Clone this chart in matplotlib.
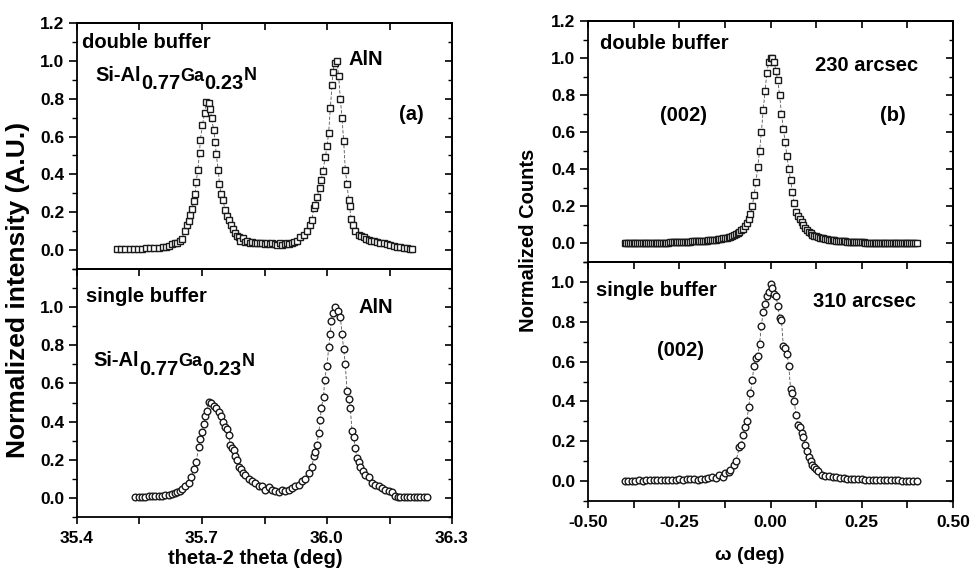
import numpy as np
import matplotlib
matplotlib.use("Agg")
import matplotlib.pyplot as plt
from matplotlib.ticker import MultipleLocator, FixedLocator

plt.rcParams['font.family'] = ['Liberation Sans', 'DejaVu Sans']
plt.rcParams['font.weight'] = 'bold'

# ---------------- data ----------------
# (a) theta-2theta, double buffer
a_dbl_x = [35.496, 35.506, 35.516, 35.526, 35.536, 35.546, 35.556, 35.566, 35.576, 35.586,
           35.596, 35.606, 35.614, 35.620, 35.628, 35.634, 35.640, 35.646, 35.652, 35.658,
           35.664, 35.668, 35.672, 35.676, 35.680, 35.684, 35.686, 35.690, 35.694, 35.696,
           35.701, 35.706, 35.710, 35.716, 35.720, 35.723, 35.728, 35.732, 35.734, 35.739,
           35.742, 35.746, 35.750, 35.756, 35.760, 35.765, 35.770, 35.774, 35.780, 35.784,
           35.788, 35.792, 35.798, 35.804, 35.808, 35.814, 35.820, 35.826, 35.832, 35.838,
           35.844, 35.850, 35.856, 35.862, 35.868, 35.874, 35.880, 35.886, 35.892, 35.898,
           35.904, 35.910, 35.916, 35.922, 35.928, 35.936, 35.944, 35.952, 35.960, 35.964,
           35.968, 35.972, 35.976, 35.982, 35.986, 35.990, 35.996, 36.000, 36.004, 36.008,
           36.012, 36.014, 36.018, 36.024, 36.028, 36.032, 36.036, 36.040, 36.044, 36.048,
           36.052, 36.054, 36.058, 36.062, 36.068, 36.076, 36.082, 36.088, 36.094, 36.100,
           36.106, 36.112, 36.120, 36.128, 36.136, 36.144, 36.152, 36.160, 36.168, 36.176,
           36.184, 36.192, 36.198, 36.204]
a_dbl_y = [0.005, 0.005, 0.006, 0.006, 0.007, 0.008, 0.008, 0.009, 0.010, 0.011,
           0.012, 0.014, 0.016, 0.020, 0.030, 0.035, 0.040, 0.050, 0.060, 0.100,
           0.130, 0.155, 0.185, 0.217, 0.260, 0.295, 0.360, 0.423, 0.514, 0.584,
           0.660, 0.724, 0.780, 0.775, 0.748, 0.696, 0.636, 0.570, 0.510, 0.423,
           0.348, 0.294, 0.264, 0.210, 0.178, 0.160, 0.133, 0.110, 0.090, 0.075,
           0.070, 0.050, 0.065, 0.045, 0.050, 0.040, 0.045, 0.040, 0.035, 0.040,
           0.035, 0.030, 0.035, 0.030, 0.035, 0.030, 0.028, 0.035, 0.025, 0.030,
           0.035, 0.030, 0.040, 0.045, 0.050, 0.070, 0.080, 0.100, 0.130, 0.160,
           0.220, 0.240, 0.280, 0.330, 0.370, 0.420, 0.490, 0.550, 0.620, 0.750,
           0.870, 0.940, 0.990, 1.000, 0.918, 0.797, 0.700, 0.575, 0.423, 0.350,
           0.266, 0.234, 0.164, 0.130, 0.100, 0.080, 0.075, 0.070, 0.060, 0.055,
           0.050, 0.050, 0.045, 0.040, 0.035, 0.030, 0.025, 0.020, 0.018, 0.015,
           0.012, 0.010, 0.008, 0.005]

# (a) theta-2theta, single buffer
a_sgl_x = [35.540, 35.548, 35.556, 35.564, 35.572, 35.580, 35.588, 35.596, 35.604, 35.612,
           35.620, 35.628, 35.634, 35.640, 35.646, 35.652, 35.660, 35.668, 35.674, 35.680,
           35.686, 35.692, 35.696, 35.700, 35.704, 35.708, 35.712, 35.716, 35.722, 35.728,
           35.734, 35.740, 35.746, 35.750, 35.756, 35.760, 35.764, 35.768, 35.772, 35.776,
           35.780, 35.784, 35.788, 35.794, 35.798, 35.804, 35.812, 35.820, 35.828, 35.836,
           35.844, 35.852, 35.860, 35.868, 35.876, 35.884, 35.892, 35.900, 35.908, 35.916,
           35.924, 35.932, 35.940, 35.948, 35.956, 35.964, 35.968, 35.972, 35.976, 35.980,
           35.984, 35.986, 35.992, 35.994, 36.000, 36.004, 36.008, 36.010, 36.014, 36.018,
           36.026, 36.032, 36.036, 36.040, 36.044, 36.048, 36.052, 36.056, 36.060, 36.064,
           36.068, 36.072, 36.076, 36.080, 36.086, 36.092, 36.100, 36.108, 36.116, 36.124,
           36.132, 36.140, 36.148, 36.156, 36.164, 36.170, 36.176, 36.184, 36.192, 36.200,
           36.208, 36.216, 36.224, 36.232, 36.240]
a_sgl_y = [0.005, 0.005, 0.006, 0.006, 0.008, 0.008, 0.010, 0.010, 0.012, 0.014,
           0.015, 0.020, 0.025, 0.030, 0.038, 0.045, 0.060, 0.080, 0.110, 0.150,
           0.190, 0.266, 0.310, 0.344, 0.388, 0.430, 0.456, 0.504, 0.500, 0.483,
           0.470, 0.449, 0.430, 0.400, 0.370, 0.360, 0.330, 0.275, 0.260, 0.250,
           0.220, 0.200, 0.160, 0.150, 0.130, 0.120, 0.100, 0.090, 0.080, 0.065,
           0.060, 0.040, 0.055, 0.040, 0.035, 0.030, 0.040, 0.035, 0.040, 0.050,
           0.060, 0.070, 0.090, 0.100, 0.130, 0.160, 0.220, 0.240, 0.280, 0.340,
           0.410, 0.470, 0.530, 0.620, 0.690, 0.790, 0.860, 0.930, 0.970, 1.000,
           0.980, 0.950, 0.860, 0.780, 0.700, 0.560, 0.520, 0.470, 0.350, 0.320,
           0.260, 0.210, 0.190, 0.160, 0.140, 0.120, 0.110, 0.080, 0.070, 0.065,
           0.050, 0.040, 0.035, 0.030, 0.010, 0.006, 0.005, 0.005, 0.005, 0.005,
           0.005, 0.005, 0.005, 0.005, 0.005]

# (b) omega rocking curve, double buffer
b_dbl_x = [-0.400, -0.395, -0.390, -0.385, -0.380, -0.375, -0.370, -0.365, -0.360, -0.355,
           -0.350, -0.345, -0.340, -0.335, -0.330, -0.325, -0.320, -0.315, -0.310, -0.305,
           -0.300, -0.295, -0.290, -0.285, -0.280, -0.275, -0.270, -0.265, -0.260, -0.255,
           -0.250, -0.245, -0.240, -0.235, -0.230, -0.225, -0.220, -0.215, -0.210, -0.205,
           -0.200, -0.195, -0.190, -0.185, -0.180, -0.175, -0.170, -0.165, -0.160, -0.155,
           -0.150, -0.145, -0.140, -0.135, -0.130, -0.125, -0.120, -0.115, -0.110, -0.105,
           -0.100, -0.095, -0.090, -0.085, -0.080, -0.075, -0.070, -0.065, -0.060, -0.055,
           -0.050, -0.045, -0.040, -0.035, -0.030, -0.025, -0.020, -0.015, -0.010, -0.005,
           0.000, 0.005, 0.010, 0.015, 0.020, 0.025, 0.030, 0.035, 0.040, 0.045,
           0.050, 0.055, 0.060, 0.065, 0.070, 0.075, 0.080, 0.085, 0.090, 0.095,
           0.100, 0.105, 0.110, 0.115, 0.120, 0.125, 0.130, 0.135, 0.140, 0.145,
           0.150, 0.155, 0.160, 0.165, 0.170, 0.175, 0.180, 0.185, 0.190, 0.195,
           0.200, 0.205, 0.210, 0.215, 0.220, 0.225, 0.230, 0.235, 0.240, 0.245,
           0.250, 0.255, 0.260, 0.265, 0.270, 0.275, 0.280, 0.285, 0.290, 0.295,
           0.300, 0.305, 0.310, 0.315, 0.320, 0.325, 0.330, 0.335, 0.340, 0.345,
           0.350, 0.355, 0.360, 0.365, 0.370, 0.375, 0.380, 0.385, 0.390, 0.395, 0.400]
b_dbl_y = [0.000, 0.000, 0.001, 0.001, 0.001, 0.001, 0.001, 0.002, 0.002, 0.002,
           0.002, 0.002, 0.002, 0.003, 0.003, 0.003, 0.003, 0.004, 0.004, 0.004,
           0.004, 0.005, 0.005, 0.005, 0.005, 0.006, 0.006, 0.007, 0.007, 0.008,
           0.008, 0.008, 0.008, 0.009, 0.009, 0.010, 0.010, 0.011, 0.011, 0.012,
           0.012, 0.013, 0.013, 0.014, 0.015, 0.015, 0.016, 0.017, 0.018, 0.019,
           0.020, 0.022, 0.023, 0.025, 0.027, 0.029, 0.031, 0.034, 0.037, 0.041,
           0.045, 0.050, 0.056, 0.063, 0.070, 0.080, 0.092, 0.110, 0.130, 0.160,
           0.200, 0.260, 0.330, 0.410, 0.500, 0.600, 0.720, 0.820, 0.920, 0.980,
           1.000, 1.000, 0.980, 0.930, 0.880, 0.800, 0.700, 0.620, 0.550, 0.470,
           0.400, 0.340, 0.280, 0.220, 0.170, 0.150, 0.130, 0.115, 0.100, 0.085,
           0.070, 0.062, 0.055, 0.048, 0.042, 0.038, 0.035, 0.032, 0.030, 0.027,
           0.025, 0.023, 0.021, 0.020, 0.018, 0.017, 0.015, 0.014, 0.013, 0.012,
           0.012, 0.011, 0.010, 0.010, 0.009, 0.009, 0.008, 0.008, 0.007, 0.007,
           0.006, 0.006, 0.005, 0.005, 0.005, 0.005, 0.004, 0.004, 0.004, 0.004,
           0.003, 0.003, 0.003, 0.003, 0.002, 0.002, 0.002, 0.002, 0.002, 0.001,
           0.001, 0.001, 0.001, 0.001, 0.001, 0.001, 0.001, 0.000, 0.000, 0.000, 0.000]

# (b) omega rocking curve, single buffer
b_sgl_x = [-0.40, -0.39, -0.38, -0.37, -0.36, -0.35, -0.34, -0.33, -0.32, -0.31,
           -0.30, -0.29, -0.28, -0.27, -0.26, -0.25, -0.24, -0.23, -0.22, -0.21,
           -0.20, -0.19, -0.18, -0.17, -0.16, -0.15, -0.14, -0.13, -0.125, -0.115,
           -0.11, -0.10, -0.095, -0.085, -0.08, -0.075, -0.07, -0.065, -0.06, -0.055,
           -0.05, -0.045, -0.04, -0.035, -0.03, -0.025, -0.02, -0.015, -0.01, -0.005,
           0.0, 0.005, 0.01, 0.015, 0.02, 0.025, 0.03, 0.035, 0.04, 0.045,
           0.05, 0.055, 0.06, 0.065, 0.07, 0.075, 0.08, 0.085, 0.09, 0.095,
           0.10, 0.105, 0.11, 0.115, 0.12, 0.125, 0.13, 0.14, 0.15, 0.16,
           0.17, 0.18, 0.19, 0.20, 0.21, 0.22, 0.23, 0.24, 0.25, 0.26,
           0.27, 0.28, 0.29, 0.30, 0.31, 0.32, 0.33, 0.34, 0.35, 0.36,
           0.37, 0.38, 0.39, 0.40]
b_sgl_y = [0.002, 0.001, 0.002, 0.001, 0.003, 0.002, 0.003, 0.004, 0.003, 0.005,
           0.004, 0.006, 0.005, 0.007, 0.006, 0.008, 0.007, 0.009, 0.008, 0.010,
           0.006, 0.012, 0.010, 0.014, 0.018, 0.015, 0.030, 0.022, 0.040, 0.045,
           0.055, 0.080, 0.100, 0.170, 0.180, 0.230, 0.270, 0.300, 0.370, 0.440,
           0.510, 0.580, 0.620, 0.630, 0.690, 0.780, 0.850, 0.890, 0.930, 0.950,
           0.990, 0.970, 0.940, 0.930, 0.880, 0.820, 0.810, 0.680, 0.670, 0.640,
           0.580, 0.460, 0.440, 0.400, 0.330, 0.280, 0.270, 0.240, 0.220, 0.180,
           0.150, 0.120, 0.100, 0.080, 0.070, 0.060, 0.050, 0.030, 0.025, 0.025,
           0.020, 0.020, 0.015, 0.015, 0.012, 0.010, 0.010, 0.008, 0.008, 0.006,
           0.006, 0.005, 0.005, 0.005, 0.004, 0.004, 0.003, 0.003, 0.003, 0.002,
           0.002, 0.002, 0.002, 0.002]

a_xticks = [35.4, 35.7, 36.0, 36.3]
a_xticklabels = ['35.4', '35.7', '36.0', '36.3']
b_xticks = [-0.50, -0.25, 0.00, 0.25, 0.50]
b_xticklabels = ['-0.50', '-0.25', '0.00', '0.25', '0.50']

# ---------------- figure ----------------
W, H = 973, 578
fig = plt.figure(figsize=(W / 100, H / 100), dpi=100)

def rect(l, t, r, b):
    return [l / W, 1 - b / H, (r - l) / W, (b - t) / H]

ax_a1 = fig.add_axes(rect(77, 23, 452, 269))
ax_a2 = fig.add_axes(rect(77, 269, 452, 517))
ax_b1 = fig.add_axes(rect(588, 21, 953, 262))
ax_b2 = fig.add_axes(rect(588, 262, 953, 501))

TICK_FS = 12.5
mk = dict(markerfacecolor='white', markeredgecolor='#1a1a1a', markeredgewidth=1.0,
          color='#555555', linewidth=0.6, linestyle=(0, (4, 2)))


def style(ax, xlim, ylim, xmaj, xmin, yticks, ymin, is_bottom):
    ax.set_xlim(*xlim)
    ax.set_ylim(*ylim)
    for s in ax.spines.values():
        s.set_linewidth(1.3)
    ax.xaxis.set_major_locator(FixedLocator(xmaj))
    ax.xaxis.set_minor_locator(MultipleLocator(xmin))
    ax.yaxis.set_major_locator(FixedLocator(yticks))
    ax.yaxis.set_minor_locator(MultipleLocator(ymin))
    ax.set_yticklabels(['%.1f' % v for v in yticks])
    ax.tick_params(axis='y', which='major', direction='out', length=6, width=1.2,
                   labelsize=TICK_FS, left=True, right=False, pad=3)
    ax.tick_params(axis='y', which='minor', direction='out', length=3.5, width=1.0,
                   left=True, right=False)
    ax.tick_params(axis='x', which='both', direction='out', length=5, width=1.2,
                   labelsize=TICK_FS, top=False, bottom=is_bottom,
                   labelbottom=is_bottom, pad=5)
    for lab in ax.get_yticklabels() + ax.get_xticklabels():
        lab.set_fontweight('bold')
    sy = ax.secondary_yaxis('right')
    sy.yaxis.set_major_locator(FixedLocator(yticks))
    sy.yaxis.set_minor_locator(MultipleLocator(ymin))
    sy.tick_params(axis='y', which='major', direction='in', length=5, width=1.2,
                   labelright=False)
    sy.tick_params(axis='y', which='minor', direction='in', length=3, width=1.0)
    sx = ax.secondary_xaxis('top')
    sx.xaxis.set_major_locator(FixedLocator(xmaj))
    sx.xaxis.set_minor_locator(MultipleLocator(xmin))
    sx.tick_params(axis='x', which='both', direction='in', length=5, width=1.2,
                   labeltop=False)
    for s in list(sy.spines.values()) + list(sx.spines.values()):
        s.set_linewidth(1.3)


def formula(ax, x, y, parts):
    first = ax.text(x, y, parts[0][0], fontsize=parts[0][1], fontweight='bold',
                    va='baseline', ha='left')
    prev = first
    for s, size, dy in parts[1:]:
        prev = ax.annotate(s, xy=(1, 0), xycoords=(prev, first), xytext=(0, dy),
                           textcoords='offset points', va='bottom', ha='left',
                           fontsize=size, fontweight='bold')


TXT = 14.5
form_parts = [('Si-Al', 14.5, 0), ('0.77', 14.5, -6), ('Ga', 13, 0), ('0.23', 14.5, -6), ('N', 13, 0.5)]

# (a) top
ax_a1.plot(a_dbl_x, a_dbl_y, marker='s', markersize=4.6, **mk)
style(ax_a1, (35.4, 36.3), (-0.1, 1.2), a_xticks, 0.15,
      [0.0, 0.2, 0.4, 0.6, 0.8, 1.0, 1.2], 0.1, False)
ax_a1.text(35.412, 1.095, 'double buffer', fontsize=TXT, fontweight='bold', va='center')
formula(ax_a1, 35.444, 0.895, form_parts)
ax_a1.text(36.052, 1.005, 'AlN', fontsize=TXT, fontweight='bold', va='center')
ax_a1.text(36.172, 0.715, '(a)', fontsize=TXT, fontweight='bold', va='center')

# (a) bottom
ax_a2.plot(a_sgl_x, a_sgl_y, marker='o', markersize=4.8, **mk)
style(ax_a2, (35.4, 36.3), (-0.1, 1.2), a_xticks, 0.15,
      [0.0, 0.2, 0.4, 0.6, 0.8, 1.0], 0.1, True)
ax_a2.set_xticklabels(a_xticklabels, fontweight='bold')
ax_a2.text(35.422, 1.057, 'single buffer', fontsize=TXT, fontweight='bold', va='center')
formula(ax_a2, 35.44, 0.69, form_parts)
ax_a2.text(36.076, 0.997, 'AlN', fontsize=TXT, fontweight='bold', va='center')

# (b) top
ax_b1.plot(b_dbl_x, b_dbl_y, marker='s', markersize=4.6, **mk)
style(ax_b1, (-0.5, 0.5), (-0.1, 1.2), b_xticks, 0.125,
      [0.0, 0.2, 0.4, 0.6, 0.8, 1.0, 1.2], 0.1, False)
ax_b1.text(-0.468, 1.08, 'double buffer', fontsize=TXT, fontweight='bold', va='center')
ax_b1.text(0.122, 0.96, '230 arcsec', fontsize=TXT, fontweight='bold', va='center')
ax_b1.text(-0.303, 0.69, '(002)', fontsize=TXT, fontweight='bold', va='center')
ax_b1.text(0.299, 0.69, '(b)', fontsize=TXT, fontweight='bold', va='center')

# (b) bottom
ax_b2.plot(b_sgl_x, b_sgl_y, marker='o', markersize=4.8, **mk)
style(ax_b2, (-0.5, 0.5), (-0.1, 1.1), b_xticks, 0.125,
      [0.0, 0.2, 0.4, 0.6, 0.8, 1.0], 0.1, True)
ax_b2.set_xticklabels(b_xticklabels, fontweight='bold')
ax_b2.text(-0.477, 0.958, 'single buffer', fontsize=TXT, fontweight='bold', va='center')
ax_b2.text(0.116, 0.904, '310 arcsec', fontsize=TXT, fontweight='bold', va='center')
ax_b2.text(-0.312, 0.655, '(002)', fontsize=TXT, fontweight='bold', va='center')

# axis labels
fig.text(18 / W, 1 - 290 / H, 'Normalized intensity (A.U.)', rotation=90,
         fontsize=19, fontweight='bold', ha='center', va='center')
fig.text(529 / W, 1 - 240 / H, 'Normalized Counts', rotation=90,
         fontsize=14.5, fontweight='bold', ha='center', va='center')
fig.text(255 / W, 1 - 558 / H, 'theta-2 theta (deg)', fontsize=14.5,
         fontweight='bold', ha='center', va='center')
fig.text(750 / W, 1 - 556 / H, 'ω (deg)', fontsize=14,
         fontweight='bold', ha='center', va='center')

fig.savefig('out.png', dpi=100)
